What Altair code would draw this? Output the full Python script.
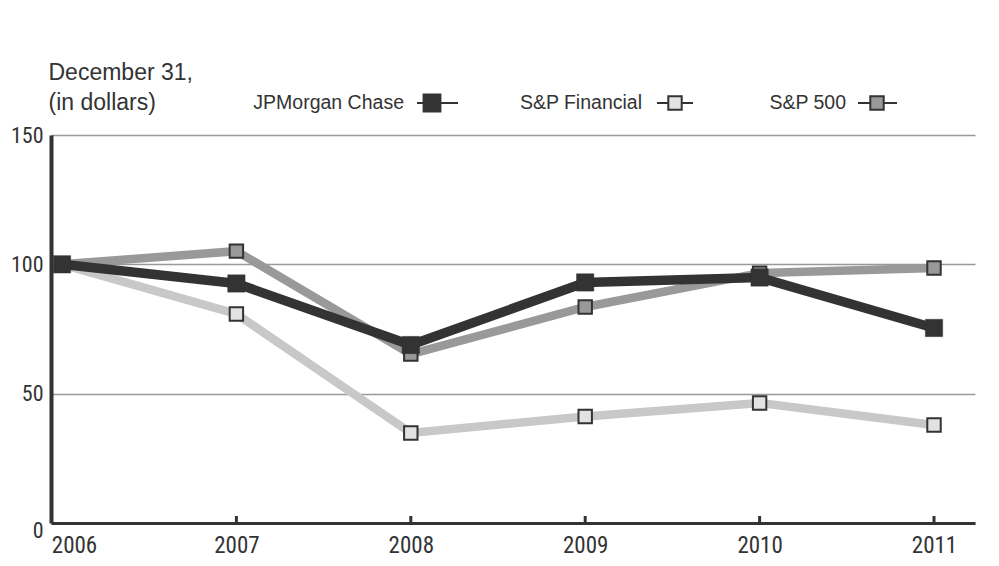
import altair as alt
import pandas as pd

# ---- data ----
years = [2006, 2007, 2008, 2009, 2010, 2011]
series_names = ["S&P Financial", "S&P 500", "JPMorgan Chase"]   # drawing order (JPM on top)
legend_order = ["JPMorgan Chase", "S&P Financial", "S&P 500"]
jpm = [100, 92.6, 68.8, 93.0, 94.9, 75.4]
sp_fin = [100, 80.8, 34.8, 41.2, 46.4, 37.9]
sp_500 = [100, 105.1, 65.3, 83.5, 96.6, 98.6]
y_ticks = [0, 50, 100, 150]
header = ["December 31,", "(in dollars)"]

values = {"JPMorgan Chase": jpm, "S&P Financial": sp_fin, "S&P 500": sp_500}

# ---- styles ----
W, H = 924, 388
DARK = "#333333"
line_color = {"JPMorgan Chase": "#333333", "S&P Financial": "#c8c8c8", "S&P 500": "#999999"}
line_width = {"JPMorgan Chase": 9.5, "S&P Financial": 8.5, "S&P 500": 8.5}
mark_fill = {"JPMorgan Chase": "#333333", "S&P Financial": "#e2e2e2", "S&P 500": "#999999"}
mark_size = {"JPMorgan Chase": 300, "S&P Financial": 180, "S&P 500": 180}
mark_stroke = {"JPMorgan Chase": 0.5, "S&P Financial": 2, "S&P 500": 2}

NARROW = "Liberation Sans Narrow, Roboto Condensed, DejaVu Sans Condensed, Liberation Sans, sans-serif"
SANS = "Liberation Sans, Arial, Helvetica, sans-serif"

x_enc = alt.X(
    "year:Q",
    scale=alt.Scale(domain=[2005.937, 2011.235], nice=False, zero=False),
    axis=alt.Axis(
        values=years, format="d", ticks=False, grid=False,
        domainColor=DARK, domainWidth=3,
        labelFont=NARROW, labelFontSize=23, labelColor=DARK,
        labelPadding=11, labelFlush=False,
        labelOffset={"condition": {"test": "datum.value == 2006", "value": 12}, "value": 0},
        title=None,
    ),
)
y_enc = alt.Y(
    "value:Q",
    scale=alt.Scale(domain=[0, 150], nice=False),
    axis=alt.Axis(
        values=y_ticks, ticks=False, grid=True,
        gridColor="#999999", gridWidth=1.5,
        domainColor=DARK, domainWidth=4,
        labelFont=NARROW, labelFontSize=22, labelColor=DARK, labelPadding=8,
        labelOffset={"condition": {"test": "datum.value == 0", "value": 7}, "value": 0},
        title=header, titleAngle=0, titleAlign="left", titleBaseline="middle",
        titleX=-3, titleY=-63, titleFont=SANS, titleFontSize=23,
        titleFontWeight="normal", titleColor=DARK, titleLineHeight=30,
    ),
)

layers = []
for name in series_names:
    df = pd.DataFrame({"year": years, "value": values[name]})
    base = alt.Chart(df)
    layers.append(
        base.mark_line(color=line_color[name], strokeWidth=line_width[name],
                       strokeJoin="miter", strokeCap="butt").encode(x=x_enc, y=y_enc)
    )
    layers.append(
        base.mark_square(size=mark_size[name], fill=mark_fill[name], stroke=DARK,
                         strokeWidth=mark_stroke[name], opacity=1).encode(x=x_enc, y=y_enc)
    )

# inward x-axis tick marks
tick_df = pd.DataFrame({"year": years[1:]})
layers.append(
    alt.Chart(tick_df).mark_rule(color=DARK, strokeWidth=3).encode(
        x=x_enc, y=alt.value(H - 7), y2=alt.value(H)
    )
)

# hand-built legend (label on the left, symbol on the right)
LY = -32
legend_pos = {
    "JPMorgan Chase": dict(tx=353, x1=366, x2=407, sx=381),
    "S&P Financial": dict(tx=591, x1=606, x2=642, sx=624),
    "S&P 500": dict(tx=795, x1=807, x2=846, sx=826),
}
for name in legend_order:
    p = legend_pos[name]
    ld = alt.Data(values=[{"label": name}])
    layers.append(
        alt.Chart(ld).mark_text(align="right", baseline="middle", font=SANS,
                                fontSize=19.5, color=DARK).encode(
            x=alt.value(p["tx"]), y=alt.value(LY), text=alt.Text("label:N"))
    )
    layers.append(
        alt.Chart(ld).mark_rule(color=DARK, strokeWidth=2).encode(
            x=alt.value(p["x1"]), x2=alt.value(p["x2"]), y=alt.value(LY))
    )
    layers.append(
        alt.Chart(ld).mark_square(size=mark_size[name], fill=mark_fill[name], stroke=DARK,
                                  strokeWidth=max(mark_stroke[name], 1.5), opacity=1).encode(
            x=alt.value(p["sx"]), y=alt.value(LY))
    )

chart = (
    alt.layer(*layers)
    .properties(
        width=W, height=H,
        autosize=alt.AutoSizeParams(type="none"),
        padding={"left": 43, "top": 127, "right": 16, "bottom": 34},
        background="white",
    )
    .configure_view(stroke=None)
)

chart.save("out.html", embed_options={"renderer": "svg", "actions": False})
